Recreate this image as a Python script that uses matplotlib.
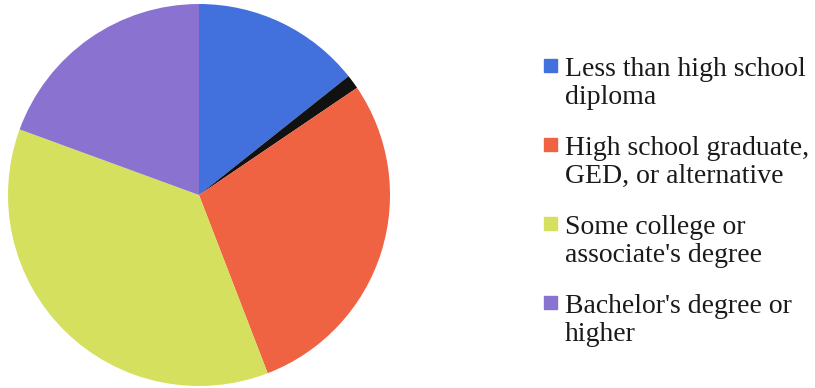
import matplotlib.pyplot as plt
from matplotlib.patches import Rectangle

# education shares (%), clockwise from 12 o'clock
categories = ["Less than high school\ndiploma",
              "High school graduate,\nGED, or alternative",
              "Some college or\nassociate's degree",
              "Bachelor's degree or\nhigher"]
shares = [14.3, 28.6, 36.4, 19.4]
other_share = 1.2   # small unlabeled black wedge between the first two
colors = ["#4270dc", "#ef6242", "#d4e05e", "#8a72d0"]

values = [shares[0], other_share] + shares[1:]
slice_colors = [colors[0], "#111111"] + colors[1:]

fig = plt.figure(figsize=(8.15, 3.88), dpi=100)
ax = fig.add_axes([8/815, 2/388, 382/815, 382/388])
ax.pie(values, colors=slice_colors, startangle=90, counterclock=False,
       wedgeprops=dict(linewidth=0))
ax.set_xlim(-1, 1)
ax.set_ylim(-1, 1)
ax.set_aspect('equal')
ax.axis('off')

#---------> hand-made legend on the right
W, H = 815, 388
y0 = 76        # baseline of first entry (px from top)
step = 79
for i, (lab, col) in enumerate(zip(categories, colors)):
    yb = y0 + i*step
    fig.patches.append(Rectangle((544/W, 1 - (yb - 4)/H), 13/W, 13/H,
                                 transform=fig.transFigure, color=col))
    for k, line in enumerate(lab.split("\n")):
        fig.text(565/W, 1 - (yb + k*28)/H, line, fontsize=20,
                 family="Liberation Serif", color="#1a1a1a", va='baseline')

fig.savefig("out.png", dpi=100)
